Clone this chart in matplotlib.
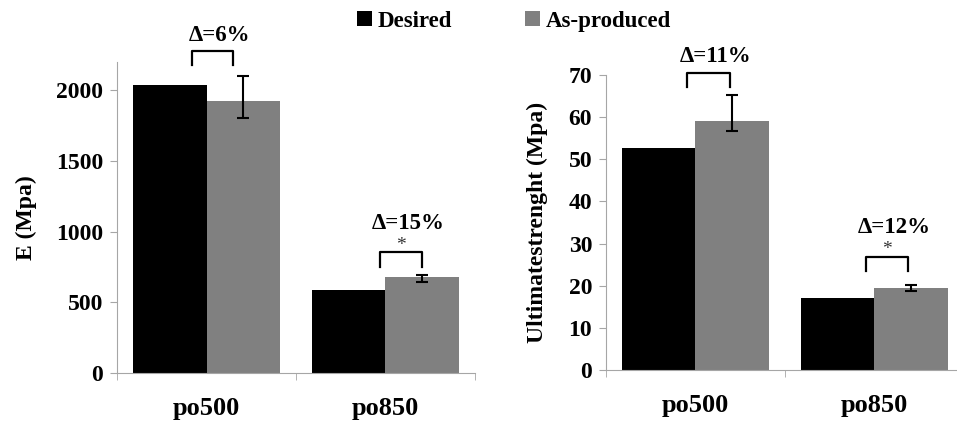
import numpy as np
import matplotlib
matplotlib.use("Agg")
import matplotlib.pyplot as plt

# data
categories = ["po500", "po850"]
series = ["Desired", "As-produced"]

E_desired = [2035, 587]
E_produced = [1920, 676]
E_err_low = [118, 35]
E_err_high = [179, 17]
E_delta = ["Δ=6%", "Δ=15%"]
E_sig = ["", "*"]

S_desired = [52.8, 17.2]
S_produced = [59.1, 19.5]
S_err_low = [2.5, 0.8]
S_err_high = [6.1, 0.7]
S_delta = ["Δ=11%", "Δ=12%"]
S_sig = ["", "*"]

plt.rcParams['font.family'] = ['Liberation Serif', 'DejaVu Serif']
plt.rcParams['font.weight'] = 'bold'

fig = plt.figure(figsize=(9.57, 4.22), dpi=100)
ax1 = fig.add_axes([0.1223, 0.116, 0.374, 0.7346 * 2200 / 2191])
ax2 = fig.add_axes([0.6332, 0.1232, 0.374, 0.699])

gray = "#808080"
spine_col = "#a6a6a6"
w = 0.41


def draw(ax, desired, produced, elo, ehi, ymax, yticks, ylabel):
    x = np.arange(len(categories))
    ax.bar(x - w / 2, desired, w, color="black", label=series[0])
    ax.bar(x + w / 2, produced, w, color=gray, label=series[1])
    ax.errorbar(x + w / 2, produced, yerr=[elo, ehi], fmt="none",
                ecolor="black", elinewidth=1.5, capsize=4, capthick=1.5)
    ax.set_xlim(-0.5, 1.5)
    ax.set_ylim(0, ymax)
    ax.set_yticks(yticks)
    ax.set_xticks(x)
    ax.set_xticklabels(categories, fontsize=19, fontweight="bold")
    ax.set_xticks([-0.5, 0.5, 1.5], minor=True)
    ax.tick_params(axis="x", which="major", length=0, pad=17)
    ax.tick_params(axis="x", which="minor", length=5, color=spine_col)
    ax.tick_params(axis="y", length=5, color=spine_col, labelsize=17, pad=5)
    for lab in ax.get_yticklabels():
        lab.set_fontweight("bold")
    for s in ["top", "right"]:
        ax.spines[s].set_visible(False)
    for s in ["left", "bottom"]:
        ax.spines[s].set_color(spine_col)
    ax.set_ylabel(ylabel, fontsize=17, fontweight="bold")


def bracket(ax, x0, x1, ytop, ybot, label, ylab, sig, ysig):
    ax.plot([x0, x0, x1, x1], [ybot, ytop, ytop, ybot], color="black",
            lw=1.6, clip_on=False)
    ax.text((x0 + x1) / 2 + 0.04, ylab, label, ha="center", va="center",
            fontsize=16.5, fontweight="bold", clip_on=False)
    if sig:
        ax.text((x0 + x1) / 2, ysig, sig, ha="center", va="center",
                fontsize=14, fontweight="normal", color="#333333")


draw(ax1, E_desired, E_produced, E_err_low, E_err_high, 2200,
     [0, 500, 1000, 1500, 2000], "E (Mpa)")
draw(ax2, S_desired, S_produced, S_err_low, S_err_high, 70,
     range(0, 71, 10), "Ultimatestrenght (Mpa)")
ax1.yaxis.set_label_coords(-0.223, 0.5)
ax2.yaxis.set_label_coords(-0.162, 0.5)

bracket(ax1, -0.081, 0.148, 2276, 2177, E_delta[0], 2389, E_sig[0], 0)
bracket(ax1, 0.969, 1.204, 855, 749, E_delta[1], 1060, E_sig[1], 905)
bracket(ax2, -0.047, 0.193, 70.5, 67.2, S_delta[0], 74.3, S_sig[0], 0)
bracket(ax2, 0.953, 1.187, 26.8, 23.5, S_delta[1], 33.7, S_sig[1], 28.6)

handles, labels = ax1.get_legend_handles_labels()
fig.legend(handles, labels, loc="center", bbox_to_anchor=(0.537, 0.95),
           ncol=2, frameon=False, handlelength=0.65,
           handleheight=0.65, handletextpad=0.25, columnspacing=3.2,
           prop={"weight": "bold", "size": 16.5})

fig.savefig("out.png", dpi=100)
